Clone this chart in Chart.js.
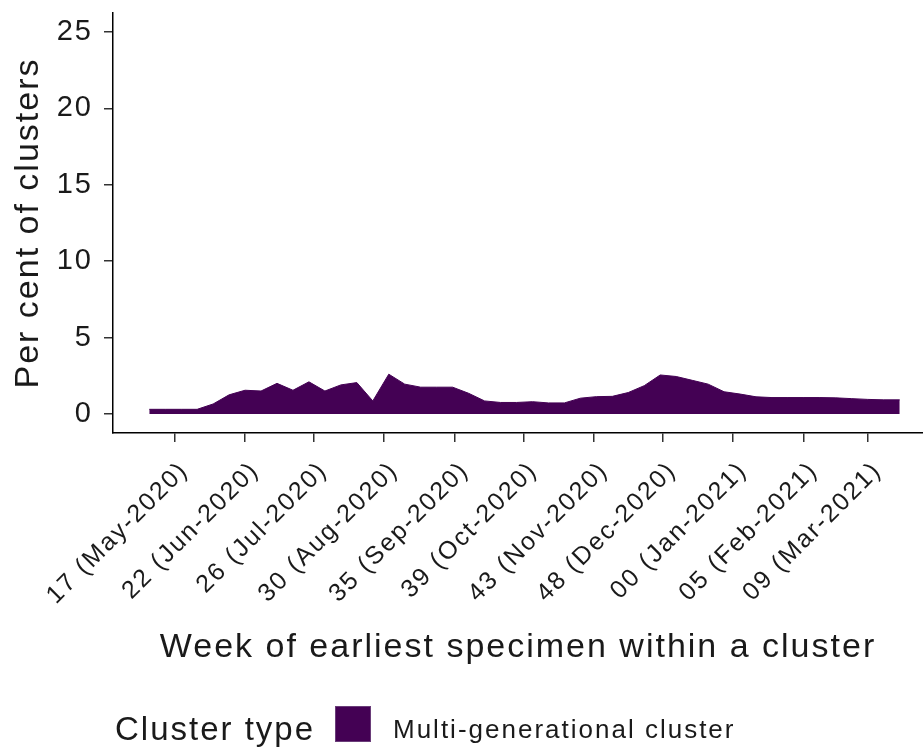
<!DOCTYPE html>
<html lang="en">
<head>
    <meta charset="UTF-8">
    <title>Multi-generational clusters by week</title>
    <style>
        body {
            margin: 0;
            background: #fff;
            font-family: 'Liberation Sans', Arial, sans-serif;
            color: #1a1a1a;
        }
        .chart-wrap {
            position: relative;
            width: 923px;
            height: 748px;
        }
        .legend-title, .legend-label {
            position: absolute;
            white-space: nowrap;
            letter-spacing: 2px;
        }
        .legend-title {
            left: 115px;
            top: 712px;
            font-size: 33px;
            line-height: 33px;
        }
        .legend-key {
            position: absolute;
            left: 335px;
            top: 706px;
            width: 36px;
            height: 36px;
            box-sizing: border-box;
            border: 1px solid #6a3d79;
        }
        .legend-label {
            left: 393px;
            top: 716px;
            font-size: 26px;
            line-height: 26px;
        }
    </style>
</head>
<body>
    <div class="chart-wrap">
        <canvas id="chart"></canvas>
        <span class="legend-title" id="legendTitle"></span>
        <span class="legend-key" id="legendKey"></span>
        <span class="legend-label" id="legendLabel"></span>
    </div>

    <script src="https://cdn.jsdelivr.net/npm/chart.js"></script>
    <script>
        // week of earliest specimen (week start dates)
        const weekStarts = [
            '2020-04-20', '2020-04-27', '2020-05-04', '2020-05-11', '2020-05-18', '2020-05-25',
            '2020-06-01', '2020-06-08', '2020-06-15', '2020-06-22', '2020-06-29',
            '2020-07-06', '2020-07-13', '2020-07-20', '2020-07-27',
            '2020-08-03', '2020-08-10', '2020-08-17', '2020-08-24', '2020-08-31',
            '2020-09-07', '2020-09-14', '2020-09-21', '2020-09-28',
            '2020-10-05', '2020-10-12', '2020-10-19', '2020-10-26',
            '2020-11-02', '2020-11-09', '2020-11-16', '2020-11-23', '2020-11-30',
            '2020-12-07', '2020-12-14', '2020-12-21', '2020-12-28',
            '2021-01-04', '2021-01-11', '2021-01-18', '2021-01-25',
            '2021-02-01', '2021-02-08', '2021-02-15', '2021-02-22',
            '2021-03-01', '2021-03-08', '2021-03-15'
        ];
        // per cent of clusters that are multi-generational
        const multiGenPct = [
            0.3, 0.3, 0.3, 0.3, 0.65, 1.25,
            1.55, 1.5, 2.0, 1.55, 2.1,
            1.5, 1.9, 2.05, 0.85,
            2.6, 1.95, 1.75, 1.75, 1.75,
            1.35, 0.85, 0.75, 0.75,
            0.8, 0.72, 0.72, 1.03,
            1.13, 1.15, 1.4, 1.85, 2.55,
            2.45, 2.2, 1.95, 1.45,
            1.3, 1.12, 1.07, 1.07,
            1.07, 1.07, 1.05, 1.0,
            0.95, 0.92, 0.92
        ];
        const tickDates = [
            '2020-05-01', '2020-06-01', '2020-07-01', '2020-08-01', '2020-09-01', '2020-10-01',
            '2020-11-01', '2020-12-01', '2021-01-01', '2021-02-01', '2021-03-01'
        ];
        const tickLabels = [
            '17 (May-2020)', '22 (Jun-2020)', '26 (Jul-2020)', '30 (Aug-2020)', '35 (Sep-2020)',
            '39 (Oct-2020)', '43 (Nov-2020)', '48 (Dec-2020)', '00 (Jan-2021)', '05 (Feb-2021)',
            '09 (Mar-2021)'
        ];
        const yTicks = [0, 5, 10, 15, 20, 25];
        const seriesName = 'Multi-generational cluster';
        const legendTitle = 'Cluster type';
        const xTitle = 'Week of earliest specimen within a cluster';
        const yTitle = 'Per cent of clusters';
        const fillColour = '#440154';
        const textColour = '#1a1a1a';

        const DAY = 86400000;
        const origin = Date.parse('2020-05-01');
        function dayNum(s) {
            return (Date.parse(s) - origin) / DAY;
        }

        document.getElementById('legendTitle').textContent = legendTitle;
        document.getElementById('legendLabel').textContent = seriesName;
        document.getElementById('legendKey').style.background = fillColour;

        Chart.defaults.font.family = "'Liberation Sans', Arial, sans-serif";
        Chart.defaults.color = textColour;

        // R output has wide hinted letter spacing, mimic it on the canvas
        const letterSpacing = {
            id: 'letterSpacing',
            beforeDraw(chart) {
                chart.ctx.letterSpacing = '2px';
            }
        };

        const ctx = document.getElementById('chart').getContext('2d');
        const chart = new Chart(ctx, {
            type: 'line',
            data: {
                datasets: [{
                    label: seriesName,
                    data: weekStarts.map((d, i) => ({ x: dayNum(d), y: multiGenPct[i] })),
                    backgroundColor: fillColour,
                    borderColor: fillColour,
                    borderWidth: 1,
                    pointRadius: 0,
                    tension: 0,
                    fill: 'origin'
                }]
            },
            options: {
                responsive: true,
                maintainAspectRatio: false,
                animation: false,
                layout: { padding: { top: 13, right: 0, bottom: 80, left: 0 } },
                plugins: {
                    legend: { display: false },
                    tooltip: { enabled: false }
                },
                scales: {
                    x: {
                        type: 'linear',
                        min: -26.9,
                        max: 328.2,
                        afterBuildTicks: (scale) => {
                            scale.ticks = tickDates.map(d => ({ value: dayNum(d) }));
                        },
                        afterFit: (scale) => {
                            scale.height = 235;
                            scale.paddingLeft = 0;
                            scale.paddingRight = 0;
                        },
                        grid: {
                            drawOnChartArea: false,
                            drawTicks: true,
                            tickLength: 9,
                            color: '#333',
                            lineWidth: 1.5
                        },
                        border: { display: true, color: '#000', width: 1.5 },
                        ticks: {
                            autoSkip: false,
                            minRotation: 45,
                            maxRotation: 45,
                            padding: 14,
                            labelOffset: 10,
                            font: { size: 25 },
                            color: textColour,
                            callback: (v, i) => tickLabels[i]
                        },
                        title: {
                            display: true,
                            text: xTitle,
                            font: { size: 34 },
                            color: textColour,
                            padding: { top: 0, bottom: 0 }
                        }
                    },
                    y: {
                        min: -1.25,
                        max: 26.25,
                        afterBuildTicks: (scale) => {
                            scale.ticks = yTicks.map(v => ({ value: v }));
                        },
                        afterFit: (scale) => {
                            scale.width = 113;
                            scale.paddingTop = 0;
                            scale.paddingBottom = 0;
                        },
                        grid: {
                            drawOnChartArea: false,
                            drawTicks: true,
                            tickLength: 9,
                            color: '#333',
                            lineWidth: 1.5
                        },
                        border: { display: true, color: '#000', width: 1.5 },
                        ticks: {
                            padding: 11,
                            font: { size: 29 },
                            color: textColour,
                            callback: (v) => String(v)
                        },
                        title: {
                            display: true,
                            text: yTitle,
                            font: { size: 34 },
                            color: textColour,
                            padding: { top: 8, bottom: 0 }
                        }
                    }
                }
            },
            plugins: [letterSpacing]
        });
    </script>
</body>
</html>
